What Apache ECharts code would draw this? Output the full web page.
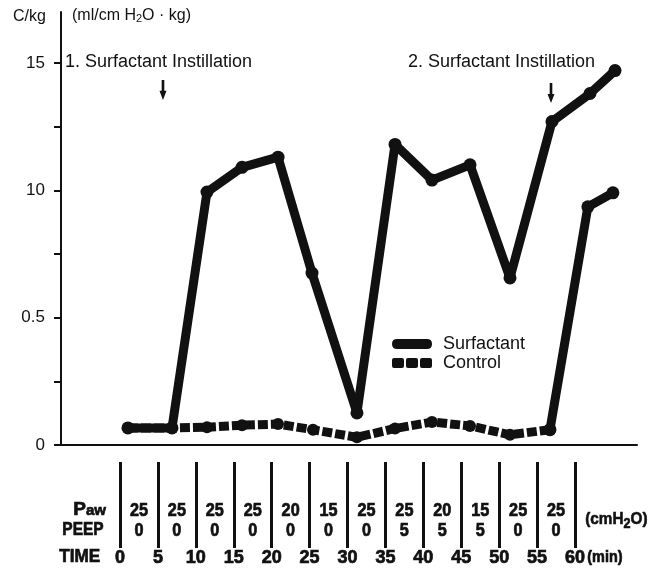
<!DOCTYPE html>
<html>
<head>
<meta charset="utf-8">
<script src="https://cdn.jsdelivr.net/npm/echarts@6/dist/echarts.min.js"></script>
<style>
html,body{margin:0;padding:0;background:#fff;}
#chart{width:658px;height:575px;}
</style>
</head>
<body>
<div id="chart"></div>
<script>
// ---- data (time in min, compliance C/kg) ----
const surfTime1   = [1.05, 6.86, 11.47, 16.09, 20.84, 25.32, 31.25, 36.27, 41.14, 46.16, 51.43, 56.97, 61.98, 65.28];
const surfValues1 = [0.67, 0.67, 9.93, 10.9, 11.3, 6.75, 1.26, 11.8, 10.4, 11.0, 6.56, 12.7, 13.8, 14.7];
const surfTime2   = [56.7, 61.7, 65.0];
const surfValues2 = [0.6, 9.35, 9.9];
const ctrlTime    = [1.05, 6.86, 11.47, 16.09, 20.84, 25.45, 31.25, 36.27, 41.14, 46.16, 51.43, 56.7];
const ctrlValues  = [0.67, 0.67, 0.7, 0.78, 0.82, 0.6, 0.3, 0.65, 0.9, 0.75, 0.4, 0.6];
const arrowTime   = [5.67, 56.84];
const arrowValue  = [13.94, 13.82];

const yTickValues  = [0, 5, 10, 15];
const yTickLabels  = ['0', '0.5', '10', '15'];
const yMinorTicks  = [0, 2.5, 5, 7.5, 10, 12.5, 15];

const timeTicks   = [0, 5, 10, 15, 20, 25, 30, 35, 40, 45, 50, 55, 60];
const timeLabels  = ['0', '5', '10', '15', '20', '25', '30', '35', '40', '45', '50', '55', '60'];
const intervalMid = [2.5, 7.5, 12.5, 17.5, 22.5, 27.5, 32.5, 37.5, 42.5, 47.5, 52.5, 57.5];
const pawValues   = [25, 25, 25, 25, 20, 15, 25, 25, 20, 15, 25, 25];
const peepValues  = [0, 0, 0, 0, 0, 0, 0, 5, 5, 5, 0, 0];

// ---- styling ----
const INK = '#111';
const SANS = '"Liberation Sans", Arial, Helvetica, sans-serif';
const PAW_ROW = 37, PEEP_ROW = 17;   // row heights inside the table grid (0..86)
const HEAVY = {stroke: INK, lineWidth: 0.7};

const zip = (xs, ys) => xs.map((x, i) => [x, ys[i]]);
const chart = echarts.init(document.getElementById('chart'), null, {renderer: 'canvas'});

const arrowPath = 'path://M2.5,0L5.5,0L5.5,12L8,12L4,22L0,12L2.5,12Z';
const iconSolid = 'path://M5,0H35Q40,0 40,5Q40,10 35,10H5Q0,10 0,5Q0,0 5,0Z';
const iconDash = 'path://M2,0H10Q12,0 12,2V8Q12,10 10,10H2Q0,10 0,8V2Q0,0 2,0Z' +
                 'M16,0H24Q26,0 26,2V8Q26,10 24,10H16Q14,10 14,8V2Q14,0 16,0Z' +
                 'M30,0H38Q40,0 40,2V8Q40,10 38,10H30Q28,10 28,8V2Q28,0 30,0Z';

function cellText(values) {
  return function (params, api) {
    const pt = api.coord([api.value(0), api.value(1)]);
    return {
      type: 'text', x: pt[0], y: pt[1], scaleX: 0.9,
      style: Object.assign({text: String(values[params.dataIndex]), font: 'bold 18px ' + SANS, fill: INK,
              align: 'center', verticalAlign: 'middle'}, HEAVY)
    };
  };
}

const option = {
  animation: false,
  backgroundColor: '#fff',
  grid: [
    {left: 61, top: 12, width: 576, height: 433, containLabel: false},
    {left: 120, top: 462, width: 455, height: 86, containLabel: false}
  ],
  xAxis: [
    {
      gridIndex: 0, type: 'value', min: -7.78, max: 68.18,
      axisLine: {show: true, onZero: false, lineStyle: {color: INK, width: 2}},
      axisTick: {show: false}, axisLabel: {show: false}, splitLine: {show: false}
    },
    {
      gridIndex: 1, type: 'value', min: 0, max: 60, interval: 5,
      axisLine: {show: false}, axisTick: {show: false},
      splitLine: {show: true, lineStyle: {color: INK, width: 3}},
      axisLabel: {
        show: true, margin: 1, color: INK, fontFamily: SANS, fontWeight: 'bold', fontSize: 18,
        textBorderColor: INK, textBorderWidth: 0.7,
        formatter: v => timeLabels[timeTicks.indexOf(v)] ?? ''
      }
    }
  ],
  yAxis: [
    {
      gridIndex: 0, type: 'value', min: 0, max: 17,
      axisLine: {show: true, onZero: false, lineStyle: {color: INK, width: 2}},
      axisTick: {show: true, length: 7, lineStyle: {color: INK, width: 2}, customValues: yMinorTicks},
      axisLabel: {
        show: true, margin: 16, color: INK, fontFamily: SANS, fontSize: 17,
        customValues: yTickValues,
        formatter: v => yTickLabels[yTickValues.indexOf(v)] ?? ''
      },
      splitLine: {show: false}
    },
    {
      gridIndex: 1, type: 'value', min: 0, max: 86, show: false
    }
  ],
  legend: {
    orient: 'vertical', left: 392, top: 335, padding: 0,
    itemWidth: 40, itemHeight: 10, itemGap: 1, selectedMode: false,
    textStyle: {color: INK, fontFamily: SANS, fontSize: 18, lineHeight: 18, padding: [0, 0, 0, 6]},
    data: [
      {name: 'Surfactant', icon: iconSolid, itemStyle: {color: INK}},
      {name: 'Control', icon: iconDash, itemStyle: {color: INK}}
    ]
  },
  series: [
    {
      name: 'Surfactant', type: 'line', xAxisIndex: 0, yAxisIndex: 0,
      data: zip(surfTime1, surfValues1),
      symbol: 'circle', symbolSize: 13, z: 3,
      itemStyle: {color: INK},
      lineStyle: {color: INK, width: 9, join: 'round'},
      markPoint: {
        symbol: arrowPath, symbolSize: [7, 20], silent: true,
        itemStyle: {color: INK}, label: {show: false},
        data: arrowTime.map((t, i) => ({coord: [t, arrowValue[i]]}))
      }
    },
    {
      name: 'Surfactant', type: 'line', xAxisIndex: 0, yAxisIndex: 0,
      data: zip(surfTime2, surfValues2),
      symbol: 'circle', symbolSize: 13, z: 3,
      itemStyle: {color: INK},
      lineStyle: {color: INK, width: 9, join: 'round'}
    },
    {
      name: 'Control', type: 'line', xAxisIndex: 0, yAxisIndex: 0,
      data: zip(ctrlTime, ctrlValues),
      symbol: 'circle', symbolSize: 12, z: 2,
      itemStyle: {color: INK},
      lineStyle: {color: INK, width: 9, type: [10, 3], cap: 'butt', join: 'round'}
    },
    {
      name: 'Paw', type: 'custom', xAxisIndex: 1, yAxisIndex: 1, silent: true, clip: false,
      data: intervalMid.map(t => [t, PAW_ROW]),
      renderItem: cellText(pawValues)
    },
    {
      name: 'PEEP', type: 'custom', xAxisIndex: 1, yAxisIndex: 1, silent: true, clip: false,
      data: intervalMid.map(t => [t, PEEP_ROW]),
      renderItem: cellText(peepValues)
    }
  ],
  graphic: [
    {type: 'text', left: 13, top: 9, style: {text: 'C/kg', font: '16px ' + SANS, fill: INK}},
    {type: 'text', left: 72, top: 8, style: {
      text: '{a|(ml/cm H}{s|2}{a|O · kg)}', fill: INK,
      rich: {a: {fontFamily: SANS, fontSize: 16, fill: INK}, s: {fontFamily: SANS, fontSize: 11, fill: INK, padding: [6, 0, 0, 0]}}
    }},
    {type: 'text', left: 65, top: 53, style: {text: '1. Surfactant Instillation', font: '18px ' + SANS, fill: INK}},
    {type: 'text', left: 408, top: 53, style: {text: '2. Surfactant Instillation', font: '18px ' + SANS, fill: INK}},
    {type: 'text', left: 73, top: 500, style: {
      text: '{p|P}{s|aw}', fill: INK, stroke: INK, lineWidth: 0.7,
      rich: {p: {fontFamily: SANS, fontWeight: 'bold', fontSize: 19, fill: INK, stroke: INK, lineWidth: 0.7},
             s: {fontFamily: SANS, fontWeight: 'bold', fontSize: 15, fill: INK, stroke: INK, lineWidth: 0.7, padding: [3, 0, 0, 0]}}
    }},
    {type: 'text', left: 62, top: 521, scaleX: 0.86, style: Object.assign({text: 'PEEP', font: 'bold 18px ' + SANS, fill: INK}, HEAVY)},
    {type: 'text', left: 59, top: 548, scaleX: 0.95, style: Object.assign({text: 'TIME', font: 'bold 18px ' + SANS, fill: INK}, HEAVY)},
    {type: 'text', left: 585, top: 511, scaleX: 0.9, style: {
      text: '{a|(cmH}{s|2}{a|O)}', fill: INK, stroke: INK, lineWidth: 0.6,
      rich: {a: {fontFamily: SANS, fontWeight: 'bold', fontSize: 17, fill: INK, stroke: INK, lineWidth: 0.6},
             s: {fontFamily: SANS, fontWeight: 'bold', fontSize: 14, fill: INK, stroke: INK, lineWidth: 0.6, padding: [8, 0, 0, 0]}}
    }},
    {type: 'text', left: 587, top: 549, scaleX: 0.9, style: Object.assign({text: '(min)', font: 'bold 16px ' + SANS, fill: INK}, HEAVY)}
  ]
};
chart.setOption(option);
</script>
</body>
</html>
